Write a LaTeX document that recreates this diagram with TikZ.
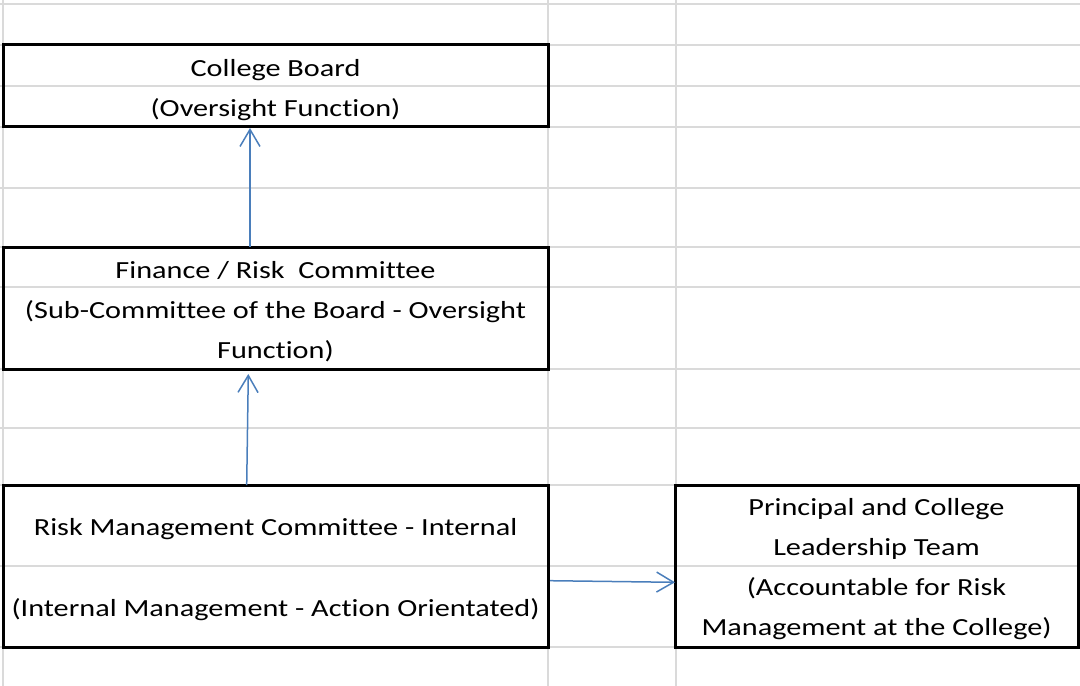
\documentclass[tikz,border=0pt]{standalone}
\usepackage{fontspec}
\setmainfont{Carlito}[FakeStretch=1.23,Ligatures=NoCommon]
\usetikzlibrary{arrows.meta}
\definecolor{gridgrey}{RGB}{218,218,218}
\definecolor{linkblue}{RGB}{74,126,187}
\begin{document}
\begin{tikzpicture}[x=1pt,y=-1pt,
  gridrule/.style={draw=gridgrey,line width=1.6pt},
  framebox/.style={draw=black,line width=3pt,inner sep=0pt,outer sep=0pt,anchor=north west},
  txt/.style={font=\fontsize{24.6}{40}\selectfont,align=center,inner sep=0pt},
  conn/.style={draw=linkblue,line width=1.5pt,-{Straight Barb[length=17pt,width=20pt,line width=1.5pt]}}
]
\useasboundingbox (0,0) rectangle (1080,686);

% worksheet cell grid
\foreach \gy in {4,45,86,127,188,247,287,369,428,485,566,647}
  \draw[gridrule] (0,\gy) -- (1080,\gy);
\foreach \gx in {3,548,676}
  \draw[gridrule] (\gx,0) -- (\gx,686);

% bordered blocks
\node[framebox,minimum width=545pt,minimum height=82pt] (cb) at (3,44) {};
\node[framebox,minimum width=545pt,minimum height=122pt] (fin) at (3,247) {};
\node[framebox,minimum width=545pt,minimum height=162pt] (rm) at (3,485) {};
\node[framebox,minimum width=403pt,minimum height=162pt] (pl) at (675,485) {};

% block texts
\node[txt] (cbtext) at ([yshift=-5.5pt]cb.center) {College Board\\(Oversight Function)};
\node[txt] (fintext) at ([yshift=-4pt]fin.center) {Finance / Risk~ Committee\\(Sub-Committee of the Board - Oversight\\Function)};
\node[txt] (rmtop) at ([yshift=37pt]rm.center) {Risk Management Committee - Internal};
\node[txt] (rmbottom) at ([yshift=-44pt]rm.center) {(Internal Management - Action Orientated)};
\node[txt] (pltext) at ([yshift=-3.5pt]pl.center) {Principal and College\\Leadership Team\\(Accountable for Risk\\Management at the College)};

% reporting lines
\draw[conn] ([xshift=-25.5pt]fin.north) -- ([xshift=-25.5pt,yshift=-2pt]cb.south);
\draw[conn] ([xshift=-28.8pt]rm.north) -- ([xshift=-27.2pt,yshift=-5pt]fin.south);
\draw[conn] ([xshift=2pt,yshift=-14.7pt]rm.east) -- ([yshift=-16.3pt]pl.west);
\end{tikzpicture}
\end{document}
